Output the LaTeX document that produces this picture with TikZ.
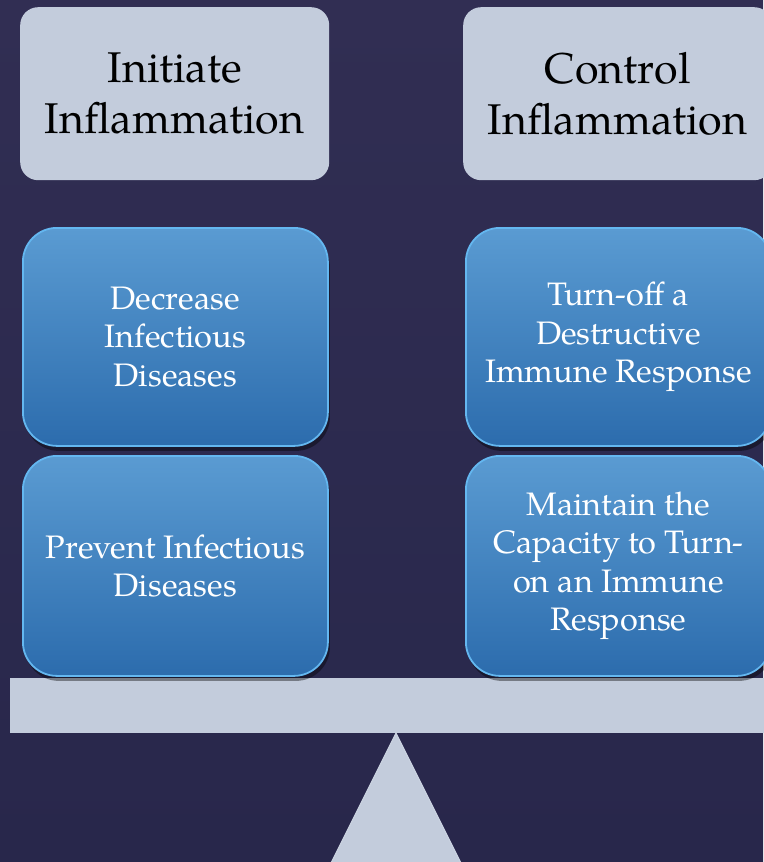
\documentclass[tikz,border=0pt]{standalone}
\usepackage{fontspec}
\setmainfont{TeX Gyre Pagella}
\usetikzlibrary{shadows}

\definecolor{nighttop}{HTML}{312E53}
\definecolor{nightbottom}{HTML}{28274B}
\definecolor{panel}{HTML}{C3CCDC}
\definecolor{paneledge}{HTML}{CDD5E3}
\definecolor{bluetop}{HTML}{5A9BD2}
\definecolor{bluebottom}{HTML}{2C6CAD}
\definecolor{blueedge}{HTML}{64B7F0}

\newcommand*\headwidth{309pt}
\newcommand*\goalwidth{305pt}
\tikzset{heading/.style={
    rectangle,
    rounded corners=18pt,
    fill=panel,
    anchor=north west,
    inner sep=0pt,
    minimum width=\headwidth,
    minimum height=173pt,
    align=center,
    font=\fontsize{43}{51}\selectfont
},
goal/.style={
    rectangle,
    rounded corners=34pt,
    draw=blueedge,
    line width=1.8pt,
    top color=bluetop,
    bottom color=bluebottom,
    drop shadow={fill=black,opacity=0.4,shadow xshift=2pt,shadow yshift=-5pt},
    anchor=north west,
    inner sep=0pt,
    minimum width=\goalwidth,
    minimum height=#1,
    align=center,
    text=white,
    font=\fontsize{32.5}{38.5}\selectfont
}}

\begin{document}
\begin{tikzpicture}[x=1pt,y=-1pt]

    % Background.
    \shade[top color=nighttop,bottom color=nightbottom] (0,0) rectangle (763,862);
    \useasboundingbox (0,0) rectangle (763,862);

    % The beam and its pivot.
    \fill[panel] (10,678) rectangle (775,733);
    \filldraw[fill=panel,draw=paneledge,line width=1pt] (396,733) -- (331,863) -- (461,863) -- cycle;

    % Headings.
    \node[heading] (initiate) at (20,7) {Initiate\\Inflammation};
    \node[heading] (control) at (463,7) {Control\\Inflammation};

    % Left pan.
    \node[goal=218pt] (decrease) at (22,227) {Decrease\\Infectious\\Diseases};
    \node[goal=220pt] (prevent) at (22,455) {Prevent Infectious\\Diseases};

    % Right pan.
    \node[goal=218pt] (turnoff) at (465,227) {Turn-off a\\Destructive\\Immune Response};
    \node[goal=220pt] (maintain) at (465,455) {Maintain the\\Capacity to Turn-\\on an Immune\\Response};

\end{tikzpicture}
\end{document}
